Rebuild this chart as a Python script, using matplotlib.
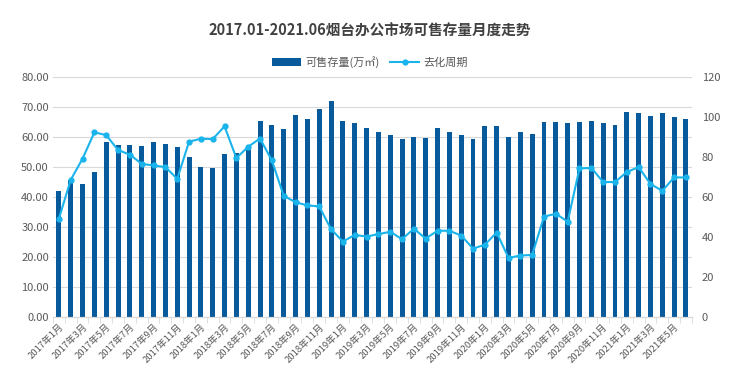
import matplotlib.pyplot as plt
import numpy as np

plt.rcParams['font.family'] = ['Noto Sans CJK SC', 'DejaVu Sans']

months = [f'{y}年{m}月' for y in range(2017, 2022) for m in range(1, 13)][:54]

stock = [42.0, 45.6, 44.2, 48.2, 58.2, 57.2, 57.2, 56.9, 58.2, 57.7, 56.7, 53.4,
         49.8, 49.5, 54.3, 54.5, 57.0, 65.2, 64.0, 62.7, 67.3, 66.1, 69.3, 71.9,
         65.2, 64.7, 63.0, 61.6, 60.7, 59.2, 60.1, 59.6, 63.0, 61.8, 60.5, 59.4,
         63.7, 63.6, 60.1, 61.5, 61.1, 65.0, 65.0, 64.6, 65.0, 65.4, 64.6, 64.0,
         68.3, 67.9, 67.1, 67.9, 66.7, 65.9]

cycle = [49.1, 68.5, 79.1, 92.3, 90.9, 83.4, 81.1, 76.5, 75.7, 74.9, 69.0, 87.6,
         89.1, 88.9, 95.3, 79.4, 85.1, 89.2, 78.2, 60.5, 57.3, 55.7, 55.2, 43.8,
         37.6, 40.9, 40.1, 41.3, 42.5, 38.8, 44.0, 39.1, 43.0, 43.0, 40.6, 34.1,
         36.0, 42.1, 29.4, 30.6, 30.9, 50.1, 51.5, 47.6, 74.2, 74.5, 67.4, 67.4,
         72.4, 74.9, 66.4, 63.0, 69.7, 69.7]

bar_color = '#075b9c'
line_color = '#1ab4ec'
txt = '#595959'

fig = plt.figure(figsize=(7.4, 3.88), dpi=100)
ax = fig.add_axes([0.0716, 0.184, 0.8634, 0.6175])
ax2 = ax.twinx()

x = np.arange(len(months))
b = ax.bar(x, stock, width=0.42, color=bar_color, zorder=2)
l, = ax2.plot(x, cycle, color=line_color, lw=1.5, marker='o', ms=3.5, zorder=3)

ax.set_xlim(-0.5, len(months) - 0.5)
ax.set_ylim(0, 80)
ax.set_yticks(np.arange(0, 81, 10))
ax.set_yticklabels([f'{v:.2f}' for v in np.arange(0, 81, 10)])
ax2.set_ylim(0, 120)
ax2.set_yticks(np.arange(0, 121, 20))

ax.grid(axis='y', color='#d9d9d9', lw=0.8, zorder=0)
ax.set_axisbelow(True)

for a in (ax, ax2):
    for s in ('top', 'left', 'right'):
        a.spines[s].set_visible(False)
    a.spines['bottom'].set_color('#d9d9d9')
ax.tick_params(axis='y', length=0, labelsize=8, colors=txt, pad=3)
ax2.tick_params(axis='y', length=0, labelsize=8, colors=txt, pad=7)

ax.set_xticks(x[::2])
ax.set_xticklabels(months[::2], rotation=45, ha='right', va='top',
                   rotation_mode='anchor', fontsize=6.8, color=txt)
ax.tick_params(axis='x', length=0, pad=4)
ax.set_xticks(np.arange(-0.5, len(months), 1), minor=True)
ax.tick_params(axis='x', which='minor', length=4, color='#d9d9d9')

fig.text(0.5, 0.922, '2017.01-2021.06烟台办公市场可售存量月度走势', ha='center', va='center',
         fontsize=10.5, fontweight='bold', color='#404040')
fig.legend([b, l], ['可售存量(万㎡)', '去化周期'], loc='center', bbox_to_anchor=(0.5, 0.84),
           ncol=2, frameon=False, fontsize=8, handlelength=2.6, handletextpad=0.4,
           columnspacing=1.0, labelcolor=txt)

fig.savefig('out.png', dpi=100)
